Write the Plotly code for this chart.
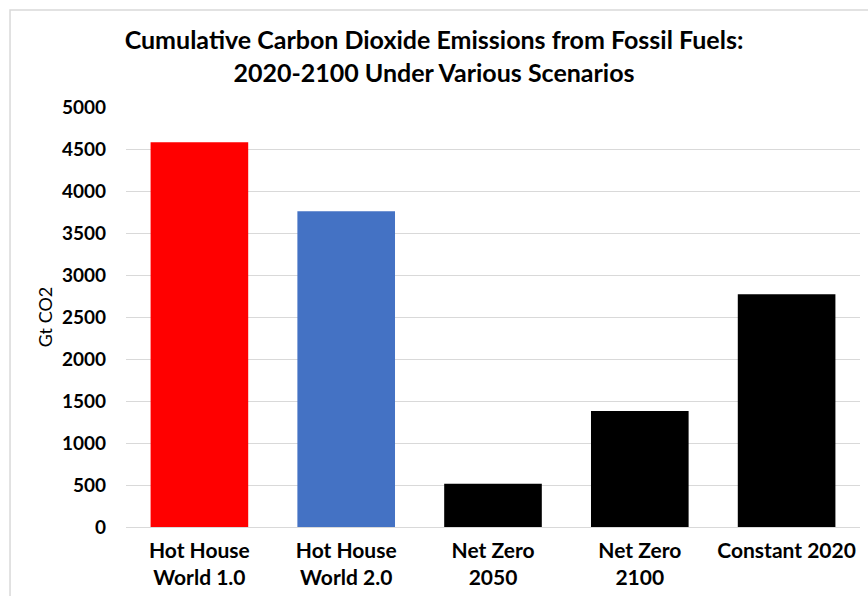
import plotly.graph_objects as go

# Scenario categories and cumulative emissions (Gt CO2, 2020-2100)
scenarios = ["Hot House<br>World 1.0", "Hot House<br>World 2.0", "Net Zero<br>2050",
             "Net Zero<br>2100", "Constant 2020"]
emissions = [4580, 3760, 515, 1380, 2770]
bar_colors = ["#ff0000", "#4472c4", "#000000", "#000000", "#000000"]

y_ticks = list(range(0, 5001, 500))

FONT = "Lato"

fig = go.Figure(
    go.Bar(
        x=scenarios,
        y=emissions,
        marker=dict(color=bar_colors, line=dict(width=0)),
        width=0.665,
    )
)

fig.update_layout(
    width=868,
    height=596,
    margin=dict(l=126, r=8, t=107, b=69),
    paper_bgcolor="white",
    plot_bgcolor="white",
    showlegend=False,
    font=dict(family=FONT, color="#000000"),
    title=dict(
        text="<b>Cumulative Carbon Dioxide Emissions from Fossil Fuels:<br>2020-2100 Under Various Scenarios</b>",
        x=0.5,
        xanchor="center",
        y=0.917,
        yanchor="middle",
        font=dict(family=FONT, size=25, color="#000000"),
    ),
    xaxis=dict(
        tickfont=dict(family=FONT, size=21, weight="bold"),
        showgrid=False,
        showline=False,
        ticks="",
        range=[-0.5, 4.5],
        ticklabelstandoff=9,
    ),
    yaxis=dict(
        range=[0, 5000],
        tickvals=y_ticks,
        tickfont=dict(family=FONT, size=19, weight="bold"),
        showgrid=True,
        gridcolor="#d9d9d9",
        gridwidth=1,
        zeroline=True,
        zerolinecolor="#d9d9d9",
        zerolinewidth=1,
        showline=False,
        ticks="",
        ticklabelstandoff=19,
        title=dict(text="Gt CO2", font=dict(family=FONT, size=18), standoff=4),
    ),
    shapes=[
        dict(
            type="rect", xref="paper", yref="paper",
            x0=-0.158, x1=1.05, y0=-0.3, y1=1.231,
            line=dict(color="#d9d9d9", width=1.5),
            fillcolor="rgba(0,0,0,0)",
            layer="below",
        )
    ],
)

fig.write_html("out.html")
